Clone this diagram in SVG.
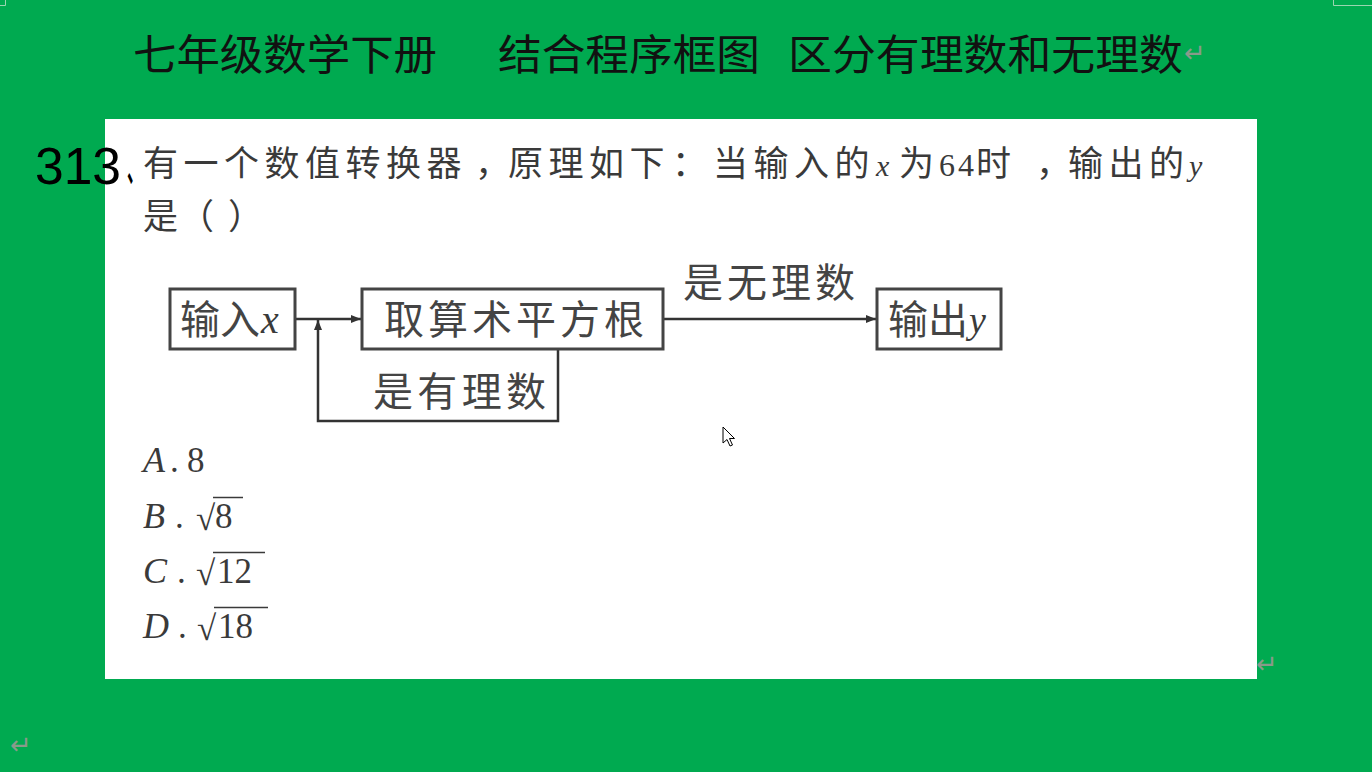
<svg xmlns="http://www.w3.org/2000/svg" width="1372" height="772" viewBox="0 0 1372 772">
<defs>
<style>
.title{font-family:"Noto Sans CJK SC",sans-serif;font-size:42px;fill:#111;}
.q{font-family:"Noto Sans CJK SC",sans-serif;font-size:35px;fill:#3a3a3a;}
.cj{font-family:"Noto Sans CJK SC",sans-serif;font-style:normal;letter-spacing:5.5px;}
.m{font-family:"Liberation Serif",serif;font-style:italic;fill:#3a3a3a;}
.n{font-family:"Liberation Serif",serif;fill:#3a3a3a;}
.fc{font-family:"Noto Sans CJK SC",sans-serif;font-size:40px;fill:#444;}
.box{fill:#fff;stroke:#444;stroke-width:3;}
.ln{fill:none;stroke:#333;stroke-width:2.5;}
.ret{font-family:"DejaVu Sans",sans-serif;font-size:26px;fill:#8a9a8a;}
</style>
<marker id="ahb" viewBox="0 0 10 10" refX="10" refY="5" markerWidth="16" markerHeight="10" orient="auto" markerUnits="userSpaceOnUse">
<path d="M0,1 L10,5 L0,9 z" fill="#333"/>
</marker>
</defs>
<rect x="0" y="0" width="1372" height="772" fill="#00AA50"/>
<g id="corners" stroke="#9ad6b0" stroke-width="1" fill="none">
<path d="M0,5.5 H5.5 V0"/>
<path d="M1333.5,0 V5.5 H1372"/>
</g>
<g id="title">
<text class="title" x="133" y="70" textLength="304" lengthAdjust="spacingAndGlyphs">七年级数学下册</text>
<text class="title" x="498" y="70" textLength="262" lengthAdjust="spacingAndGlyphs">结合程序框图</text>
<text class="title" x="788" y="70" textLength="395" lengthAdjust="spacingAndGlyphs">区分有理数和无理数</text>
<text class="ret" x="1184" y="62">↵</text>
</g>
<rect id="panel" x="105" y="119" width="1152" height="560" fill="#fff"/>
<g id="number">
<text x="35" y="184" font-family="Liberation Sans, sans-serif" font-size="52" fill="#000" textLength="86" lengthAdjust="spacingAndGlyphs">313</text>
<text transform="translate(127,182) scale(0.44,1)" font-family="Noto Sans CJK SC, sans-serif" font-size="36" font-weight="bold" fill="#000">、</text>
</g>
<g id="question">
<text class="q" y="176"><tspan class="cj" x="143">有一个数值转换器</tspan></text>
<text class="q" x="475" y="176" font-size="29">，</text>
<text class="q" y="176"><tspan class="cj" x="508">原理如下</tspan><tspan class="cj" x="672">：</tspan><tspan class="cj" x="713">当输入的</tspan><tspan class="m" x="876" font-size="30">x</tspan><tspan class="cj" x="899">为</tspan><tspan class="n" x="939" font-size="32" letter-spacing="3">64</tspan><tspan class="cj" x="976">时</tspan></text>
<text class="q" x="1036" y="176" font-size="27">，</text>
<text class="q" y="176"><tspan class="cj" x="1068" letter-spacing="7">输出的</tspan><tspan class="m" x="1189" font-size="30">y</tspan></text>
<text class="q" y="229"><tspan x="143">是</tspan><tspan x="179">（</tspan><tspan x="228">）</tspan></text>
</g>
<g id="connectors">
<line class="ln" x1="295" y1="319" x2="361" y2="319" marker-end="url(#ahb)"/>
<polyline class="ln" points="558,349 558,421 318,421 318,320" marker-end="url(#ahb)"/>
<line class="ln" x1="663" y1="319" x2="876" y2="319" marker-end="url(#ahb)"/>
<text class="fc" x="373" y="406" textLength="173" lengthAdjust="spacing">是有理数</text>
<text class="fc" x="683" y="297" textLength="172" lengthAdjust="spacing">是无理数</text>
</g>
<g id="node-input">
<rect class="box" x="170" y="289" width="125" height="60"/>
<text class="fc" x="180" y="334">输入</text>
<text class="m" x="261" y="333" font-size="40" fill="#444">x</text>
</g>
<g id="node-sqrt">
<rect class="box" x="362" y="289" width="301" height="60"/>
<text class="fc" x="384" y="334" textLength="260" lengthAdjust="spacing">取算术平方根</text>
</g>
<g id="node-output">
<rect class="box" x="877" y="289" width="124" height="60"/>
<text class="fc" x="888" y="334" font-size="38">输出</text>
<text class="m" x="969" y="333" font-size="38" fill="#444">y</text>
</g>
<g id="options">
<text class="m" x="143" y="472" font-size="36">A</text>
<text class="n" x="170" y="472" font-size="35">.</text>
<text class="n" x="187" y="472" font-size="35">8</text>
<text class="m" x="143" y="528" font-size="36">B</text>
<text class="n" x="175" y="528" font-size="35">.</text>
<text class="n" x="196" y="530" font-size="35">√</text>
<line x1="213" y1="497.5" x2="243" y2="497.5" stroke="#3a3a3a" stroke-width="1.5"/>
<text class="n" x="215" y="528" font-size="35">8</text>
<text class="m" x="143" y="583" font-size="36">C</text>
<text class="n" x="177" y="583" font-size="35">.</text>
<text class="n" x="196" y="585" font-size="35">√</text>
<line x1="213" y1="552.5" x2="265" y2="552.5" stroke="#3a3a3a" stroke-width="1.5"/>
<text class="n" x="217" y="583" font-size="35">12</text>
<text class="m" x="143" y="638" font-size="36">D</text>
<text class="n" x="178" y="638" font-size="35">.</text>
<text class="n" x="197" y="640" font-size="35">√</text>
<line x1="214" y1="607.5" x2="268" y2="607.5" stroke="#3a3a3a" stroke-width="1.5"/>
<text class="n" x="218" y="638" font-size="35">18</text>
</g>
<path id="cursor" d="M723,427 L723,443 L727,439.5 L730,446 L732.5,445 L729.5,438.5 L734.5,438.5 Z" fill="#fff" stroke="#000" stroke-width="1"/>
<text class="ret" x="1256" y="673">↵</text>
<text class="ret" x="10" y="754">↵</text>
</svg>
